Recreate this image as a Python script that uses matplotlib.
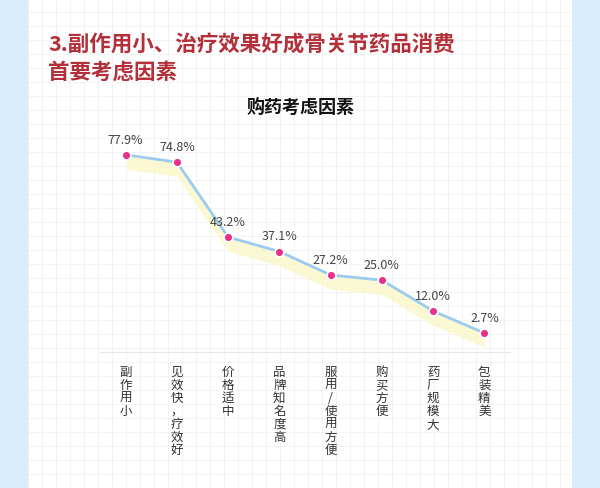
import matplotlib.pyplot as plt
import numpy as np

categories = ["副作用小", "见效快，疗效好", "价格适中", "品牌知名度高",
              "服用/使用方便", "购买方便", "药厂规模大", "包装精美"]
values = [77.9, 74.8, 43.2, 37.1, 27.2, 25.0, 12.0, 2.7]

plt.rcParams["font.family"] = ["Noto Sans CJK SC", "Noto Sans CJK JP", "Noto Sans CJK TC", "DejaVu Sans"]

fig = plt.figure(figsize=(6, 4.88), dpi=100)
fig.patch.set_facecolor("#d8ecfb")

# white panel with faint grid
bg = fig.add_axes([28 / 600, 0, 544 / 600, 1])
bg.set_facecolor("white")
bg.set_xlim(0, 544)
bg.set_ylim(0, 488)
bg.set_xticks(np.arange(0, 544, 14))
bg.set_yticks(np.arange(0, 488, 14))
bg.grid(True, color="#f1f1f1", lw=0.6)
bg.tick_params(length=0, labelbottom=False, labelleft=False)
for s in bg.spines.values():
    s.set_visible(False)

fig.text(48 / 600, 1 - 45 / 488, "3.副作用小、治疗效果好成骨关节药品消费",
         fontsize=15.5, fontweight="bold", color="#b3303a", va="center")
fig.text(48 / 600, 1 - 72 / 488, "首要考虑因素",
         fontsize=15.5, fontweight="bold", color="#b3303a", va="center")
fig.text(300 / 600, 1 - 107 / 488, "购药考虑因素", fontsize=13,
         fontweight="bold", color="#111111", ha="center", va="center")

ax = fig.add_axes([100 / 600, 136 / 488, 410 / 600, 214 / 488])
ax.patch.set_alpha(0)
x = np.arange(len(values))
ax.fill_between(x, values, [v - 6 for v in values], color="#fbf8c8", alpha=0.8, lw=0)
ax.plot(x, values, color="#9ccbf0", lw=2, zorder=2)
ax.scatter(x, values, s=40, color="#e8318a", edgecolor="white", linewidth=1.2, zorder=3)
for xi, v in zip(x, values):
    ax.text(xi, v + 3.5, f"{v}%", ha="center", va="bottom", fontsize=9, color="#444444")
ax.set_xlim(-0.5, 7.5)
ax.set_ylim(-5.3, 85)
ax.set_xticks(x)
ax.set_xticklabels(["\n".join(c) for c in categories], fontsize=9,
                   color="#333333", va="top", linespacing=1.0)
ax.tick_params(axis="x", length=0, pad=10)
ax.set_yticks([])
for s in ["top", "right", "left"]:
    ax.spines[s].set_visible(False)
ax.spines["bottom"].set_color("#e6e6e6")

fig.savefig("out.png", dpi=100, facecolor=fig.get_facecolor())
